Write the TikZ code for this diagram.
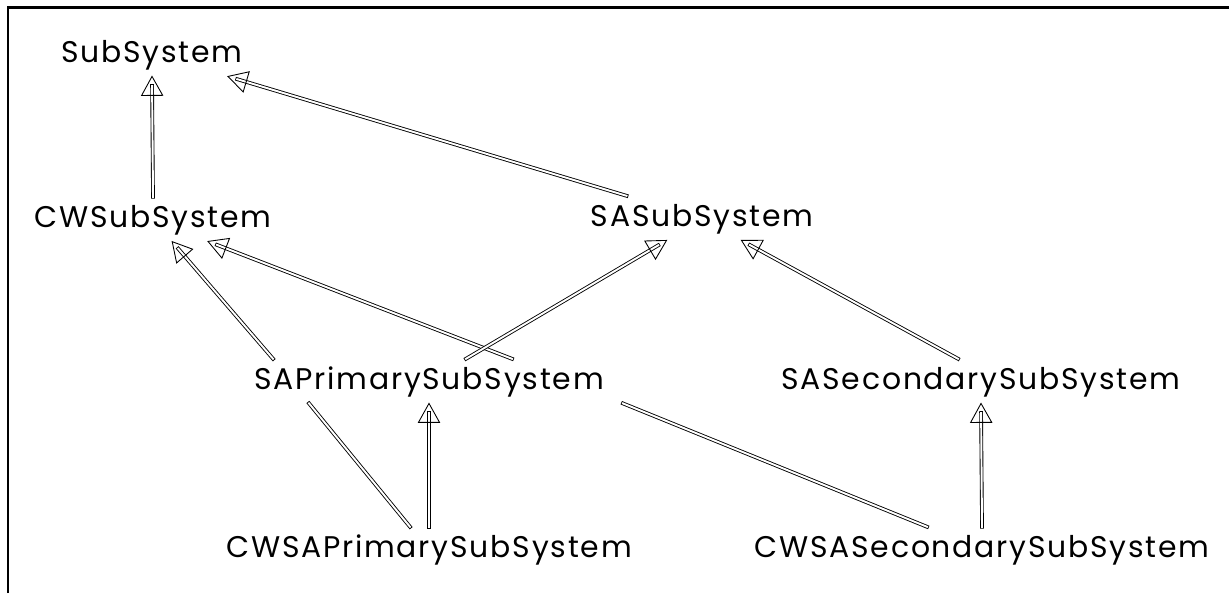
\documentclass[tikz,border=0pt]{standalone}
\usepackage{fontspec}
\newfontfamily\clsfont[LetterSpace=6]{Poppins}
\usetikzlibrary{decorations.markings}
\tikzset{
	cls/.style={font=\clsfont\fontsize{17}{20}\selectfont, anchor=base, text height=12.5pt, text depth=3.5pt, inner sep=4.5pt},
	link/.style={draw, line width=0.5pt, double=white, double distance=1.1pt, line cap=rect},
	isa/.style={link, shorten >=5.5pt, postaction={decorate, decoration={markings, mark=at position 1 with {\draw[line width=0.5pt, line cap=butt, line join=miter, fill=none] (0,0) -- (-10.8pt,6pt) -- (-10.8pt,-6pt) -- cycle;}}}}
}
\begin{document}
\begin{tikzpicture}[x=0.02cm, y=-0.02cm]
	\useasboundingbox (0,0) rectangle (1229,593);
	% frame
	\draw[line width=1.7pt] (8,593) -- (8,7) -- (1229,7);
	
	% classes
	\node[cls] (sub) at (152,62) {SubSystem};
	\node[cls] (cwsub) at (153,227) {CWSubSystem};
	\node[cls] (sasub) at (702,226) {SASubSystem};
	\node[cls] (sapri) at (429,389) {SAPrimarySubSystem};
	\node[cls] (sasec) at (981,389) {SASecondarySubSystem};
	\node[cls] (cwsapri) at (429,557) {CWSAPrimarySubSystem};
	\node[cls] (cwsasec) at (982,557) {CWSASecondarySubSystem};
	
	% generalisations
	\draw[isa] (cwsub.north) -- (sub.south);
	\draw[isa] ([xshift=-1.51cm]sasub.north) -- ([xshift=1.52cm]sub.south);
	\draw[isa] ([xshift=-3.12cm]sapri.north) -- ([xshift=0.38cm]cwsub.south);
	\draw[isa] ([xshift=1.66cm]sapri.north) -- ([xshift=1.1cm]cwsub.south);
	\draw[isa] ([xshift=0.74cm]sapri.north) -- ([xshift=-0.71cm]sasub.south);
	\draw[isa] ([xshift=-0.46cm]sasec.north) -- ([xshift=0.79cm]sasub.south);
	\draw[isa] (cwsapri.north) -- (sapri.south);
	\draw[isa] (cwsasec.north) -- (sasec.south);
	
	% plain links
	\draw[link] ([xshift=-2.4cm]sapri.south) -- ([xshift=-0.38cm]cwsapri.north);
	\draw[link] ([xshift=3.88cm]sapri.south) -- ([xshift=-1.1cm]cwsasec.north);
\end{tikzpicture}
\end{document}
